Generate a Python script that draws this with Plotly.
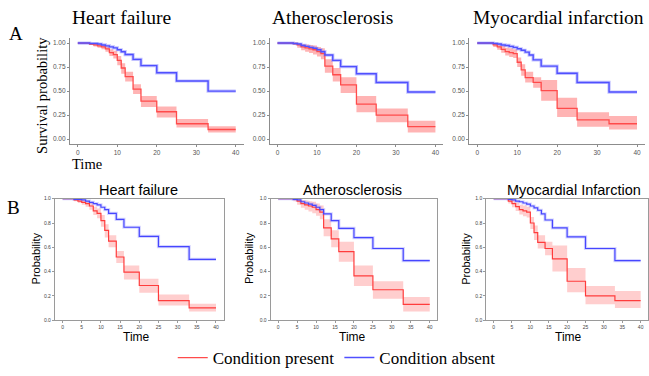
import plotly.graph_objects as go

W, H = 649, 376

# ---------------- data (Kaplan-Meier step estimates) ----------------
hf_absent_t = [0, 3, 5, 6, 7, 8, 9, 10, 11, 12, 14, 16, 20, 25, 33, 40]
hf_absent_s = [1.00, 0.995, 0.99, 0.98, 0.97, 0.96, 0.95, 0.93, 0.91, 0.88, 0.83, 0.765, 0.69, 0.605, 0.50, 0.50]
hf_present_t = [0, 3, 4, 5, 6, 7, 8, 9, 10, 11, 12, 14, 16, 20, 25, 33, 40]
hf_present_s = [1.0, 0.99, 0.98, 0.97, 0.96, 0.94, 0.90, 0.88, 0.82, 0.74, 0.65, 0.52, 0.395, 0.285, 0.16, 0.10, 0.10]
hf_present_lo = [1.0, 0.98, 0.965, 0.95, 0.935, 0.91, 0.865, 0.84, 0.77, 0.68, 0.60, 0.47, 0.335, 0.225, 0.12, 0.07, 0.07]
hf_present_hi = [1.0, 1.0, 0.995, 0.99, 0.98, 0.965, 0.935, 0.92, 0.865, 0.79, 0.70, 0.57, 0.45, 0.34, 0.21, 0.135, 0.135]

ath_absent_t = [0, 4, 5, 6, 7, 8, 9, 10, 11, 12, 14, 16, 20, 25, 33, 40]
ath_absent_s = [1.0, 0.995, 0.99, 0.975, 0.965, 0.955, 0.945, 0.93, 0.91, 0.875, 0.82, 0.755, 0.68, 0.59, 0.49, 0.49]
ath_present_t = [0, 4, 5, 6, 7, 8, 9, 10, 11, 12, 14, 16, 20, 25, 33, 40]
ath_present_s = [1.0, 0.995, 0.98, 0.96, 0.95, 0.94, 0.93, 0.91, 0.89, 0.76, 0.67, 0.565, 0.365, 0.25, 0.13, 0.13]
ath_present_lo = [1.0, 0.98, 0.95, 0.925, 0.91, 0.895, 0.88, 0.86, 0.83, 0.69, 0.60, 0.48, 0.28, 0.175, 0.07, 0.07]
ath_present_hi = [1.0, 1.0, 1.0, 0.99, 0.985, 0.98, 0.975, 0.96, 0.945, 0.83, 0.74, 0.645, 0.45, 0.32, 0.19, 0.19]

mi_absent_t = [0, 4, 5, 6, 7, 8, 9, 10, 11, 12, 13, 14, 16, 20, 25, 33, 40]
mi_absent_s = [1.0, 0.995, 0.99, 0.98, 0.975, 0.965, 0.955, 0.94, 0.925, 0.905, 0.875, 0.825, 0.76, 0.685, 0.59, 0.49, 0.49]
mi_present_t = [0, 4, 5, 6, 7, 8, 9, 10, 11, 12, 14, 16, 20, 25, 33, 40]
mi_present_s = [1.0, 0.98, 0.96, 0.935, 0.91, 0.90, 0.89, 0.80, 0.72, 0.64, 0.59, 0.505, 0.32, 0.20, 0.16, 0.16]
mi_present_lo = [1.0, 0.96, 0.93, 0.90, 0.87, 0.855, 0.845, 0.75, 0.66, 0.59, 0.535, 0.40, 0.23, 0.13, 0.10, 0.10]
mi_present_hi = [1.0, 1.0, 0.99, 0.97, 0.95, 0.945, 0.935, 0.85, 0.78, 0.70, 0.645, 0.615, 0.43, 0.28, 0.24, 0.24]

titles_a = ["Heart failure", "Atherosclerosis", "Myocardial infarction"]
titles_b = ["Heart failure", "Atherosclerosis", "Myocardial Infarction"]
legend_labels = ["Condition present", "Condition absent"]

a_yticks = [0.0, 0.25, 0.5, 0.75, 1.0]
a_yticklabels = ["0.00", "0.25", "0.50", "0.75", "1.00"]
a_xticks = [0, 10, 20, 30, 40]
b_yticks = [0.0, 0.2, 0.4, 0.6, 0.8, 1.0]
b_yticklabels = ["0.0", "0.2", "0.4", "0.6", "0.8", "1.0"]
b_xticks = [0, 5, 10, 15, 20, 25, 30, 35, 40]

datasets = [
    (hf_present_t, hf_present_s, hf_present_lo, hf_present_hi, hf_absent_t, hf_absent_s),
    (ath_present_t, ath_present_s, ath_present_lo, ath_present_hi, ath_absent_t, ath_absent_s),
    (mi_present_t, mi_present_s, mi_present_lo, mi_present_hi, mi_absent_t, mi_absent_s),
]

def px(x):
    return x / W

def py(y):
    return 1 - y / H

SERIF = "Liberation Serif"
SANS = "Liberation Sans"

# panel geometry (pixels)
a_xdom = [(70, 244), (270, 444), (470, 646)]
a_ydom = (36, 144)
b_xdom = [(55, 224), (271, 438), (487, 649)]
b_ydom = (200, 324)

fig = go.Figure()
layout = {}

for row in range(2):
    for col in range(3):
        k = row * 3 + col + 1
        xa = "x" if k == 1 else f"x{k}"
        ya = "y" if k == 1 else f"y{k}"
        tp, sp, lo, hi, ta, sa = datasets[col]
        if row == 0:
            red_line = "rgb(255,75,75)"
            red_fill = "rgba(255,40,40,0.35)"
            blue_line = "rgb(80,80,255)"
            blue_halo = "rgba(120,120,255,0.45)"
            rw, bw = 1.3, 1.4
        else:
            red_line = "rgb(255,60,60)"
            red_fill = "rgba(255,60,60,0.25)"
            blue_line = "rgb(70,70,255)"
            blue_halo = "rgba(120,120,255,0.30)"
            rw, bw = 1.2, 1.2
        fig.add_trace(go.Scatter(x=tp, y=lo, mode="lines", line=dict(width=0, shape="hv"),
                                 xaxis=xa, yaxis=ya, showlegend=False, hoverinfo="skip"))
        fig.add_trace(go.Scatter(x=tp, y=hi, mode="lines", line=dict(width=0, shape="hv"),
                                 fill="tonexty", fillcolor=red_fill,
                                 xaxis=xa, yaxis=ya, showlegend=False, hoverinfo="skip"))
        fig.add_trace(go.Scatter(x=ta, y=sa, mode="lines", line=dict(width=3.2, shape="hv", color=blue_halo),
                                 xaxis=xa, yaxis=ya, showlegend=False, hoverinfo="skip"))
        fig.add_trace(go.Scatter(x=tp, y=sp, mode="lines", line=dict(width=rw, shape="hv", color=red_line),
                                 name=legend_labels[0], legendrank=1,
                                 xaxis=xa, yaxis=ya, showlegend=(k == 1)))
        fig.add_trace(go.Scatter(x=ta, y=sa, mode="lines", line=dict(width=bw, shape="hv", color=blue_line),
                                 name=legend_labels[1], legendrank=2,
                                 xaxis=xa, yaxis=ya, showlegend=(k == 1)))

        xkey = "xaxis" if k == 1 else f"xaxis{k}"
        ykey = "yaxis" if k == 1 else f"yaxis{k}"
        if row == 0:
            x0, x1 = a_xdom[col]
            y0, y1 = a_ydom
            layout[xkey] = dict(domain=[px(x0), px(x1)], range=[-2, 42], anchor=ya,
                                tickvals=a_xticks, showgrid=False, zeroline=False,
                                showline=True, linecolor="#8c8c8c", linewidth=1,
                                ticks="outside", ticklen=2, tickcolor="#8c8c8c",
                                tickfont=dict(family=SANS, size=6.5, color="#555"))
            layout[ykey] = dict(domain=[py(y1), py(y0)], range=[-0.05, 1.05], anchor=xa,
                                tickvals=a_yticks, ticktext=a_yticklabels,
                                showgrid=False, zeroline=False,
                                showline=True, linecolor="#8c8c8c", linewidth=1,
                                ticks="outside", ticklen=2, tickcolor="#8c8c8c",
                                tickfont=dict(family=SANS, size=6.5, color="#555"))
        else:
            x0, x1 = b_xdom[col]
            y0, y1 = b_ydom
            layout[xkey] = dict(domain=[px(x0), px(x1)], range=[-2, 42], anchor=ya,
                                tickvals=b_xticks, showgrid=False, zeroline=False,
                                showline=True, mirror=True, linecolor="#9a9a9a", linewidth=1,
                                ticks="outside", ticklen=2, tickcolor="#9a9a9a",
                                tickfont=dict(family=SANS, size=5, color="#444"))
            layout[ykey] = dict(domain=[py(y1), py(y0)], range=[0, 1.0], anchor=xa,
                                tickvals=b_yticks, ticktext=b_yticklabels,
                                showgrid=False, zeroline=False,
                                showline=True, mirror=True, linecolor="#9a9a9a", linewidth=1,
                                ticks="outside", ticklen=2, tickcolor="#9a9a9a",
                                tickfont=dict(family=SANS, size=5, color="#444"))

annotations = []
def ann(text, x, y, size, family, angle=0, xanchor="center"):
    annotations.append(dict(text=text, x=px(x), y=py(y), xref="paper", yref="paper",
                            showarrow=False, textangle=angle, xanchor=xanchor, yanchor="middle",
                            font=dict(family=family, size=size, color="black")))

# row A titles
for cx, t in zip([122, 333, 559], titles_a):
    ann(t, cx, 15, 19.5, SERIF)
ann("A", 16, 31, 19, SERIF)
ann("Survival probability", 42, 94, 14.5, SERIF, angle=-90)
ann("Time", 87, 165, 14.5, SERIF)

# row B titles
for cx, t in zip([139, 353, 575], titles_b):
    ann(t, cx, 191, 14.5, SANS)
ann("B", 14, 209, 19, SERIF)
for cx in [37, 250, 467]:
    ann("Probability", cx, 261, 11, SANS, angle=-90)
for cx in [137, 353, 569]:
    ann("Time", cx, 341, 12, SANS)

fig.update_layout(
    width=W, height=H,
    margin=dict(l=0, r=0, t=0, b=0),
    paper_bgcolor="white", plot_bgcolor="white",
    annotations=annotations,
    hovermode=False,
    showlegend=True,
    legend=dict(orientation="h", x=px(173), y=py(363), xanchor="left", yanchor="middle",
                traceorder="normal",
                font=dict(family=SERIF, size=17, color="black"),
                bgcolor="rgba(0,0,0,0)", itemwidth=30, tracegroupgap=0),
    **layout,
)

fig.write_html("out.html", config={"displayModeBar": False, "staticPlot": True},
               post_script="document.body.style.margin='0';document.body.style.padding='0';")
